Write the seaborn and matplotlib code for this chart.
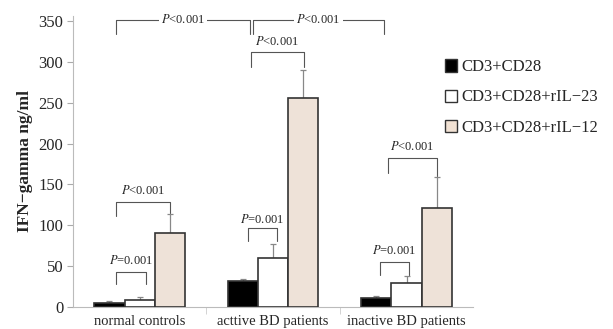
import numpy as np
import pandas as pd
import matplotlib
matplotlib.use("Agg")
import matplotlib.pyplot as plt
import seaborn as sns
from matplotlib.patches import Patch

# ---- data ----
groups = ["normal controls", "acttive BD patients", "inactive BD patients"]
stims = ["CD3+CD28", "CD3+CD28+rIL\u221223", "CD3+CD28+rIL\u221212"]
cd3_cd28 = [5, 31, 10]
cd3_cd28_il23 = [8, 60, 29.5]
cd3_cd28_il12 = [90, 256, 121]
err_cd3_cd28 = [1.5, 2.5, 3]
err_il23 = [4, 17, 7.5]
err_il12 = [24, 34, 38]
yticks = [0, 50, 100, 150, 200, 250, 300, 350]

# significance brackets: x1, x2, top, left arm end, right arm end, label, text y
brackets = [
    (-0.18, 0.83, 352, 335, 335, "<0.001", 352),
    (0.85, 1.83, 352, 335, 335, "<0.001", 352),
    (0.835, 1.23, 312, 294, 294, "<0.001", 325),
    (-0.18, 0.23, 129, 111, 115, "<0.001", 143),
    (-0.18, 0.045, 43, 28, 28, "=0.001", 57),
    (0.81, 1.03, 97, 80, 80, "=0.001", 107),
    (1.80, 2.015, 55, 39, 39, "=0.001", 69),
    (1.86, 2.23, 183, 164, 160, "<0.001", 197),
]

df = pd.DataFrame({
    "group": groups * 3,
    "stim": [stims[0]] * 3 + [stims[1]] * 3 + [stims[2]] * 3,
    "value": cd3_cd28 + cd3_cd28_il23 + cd3_cd28_il12,
})
errs = [err_cd3_cd28, err_il23, err_il12]

sns.set_style("white")
plt.rcParams["font.family"] = ["Liberation Serif", "DejaVu Serif"]
plt.rcParams["mathtext.fontset"] = "stix"

colors = ["#000000", "#ffffff", "#f2e2d4"]

fig = plt.figure(figsize=(6.13, 3.29), dpi=100)
ax = fig.add_axes([0.119, 0.068, 0.653, 0.884])

sns.barplot(data=df, x="group", y="value", hue="stim", palette=colors,
            width=0.68, edgecolor="#333333", linewidth=1.2, errorbar=None,
            legend=False, ax=ax, zorder=3)

# one-sided error bars
for cont, e in zip(ax.containers, errs):
    for bar, ev in zip(cont, e):
        xc = bar.get_x() + bar.get_width() / 2
        h = bar.get_height()
        ax.errorbar(xc, h, yerr=[[0], [ev]], color="#888888", lw=0.9,
                    capsize=2.5, capthick=0.9, zorder=2)

# brackets
for x1, x2, top, yl, yr, lab, ty in brackets:
    ax.plot([x1, x1, x2, x2], [yl, top, top, yr], color="#555555", lw=0.8,
            zorder=4, clip_on=False)
    t = ax.text((x1 + x2) / 2, ty, r"$\it{P}$" + lab, ha="center", va="center",
                fontsize=9, zorder=5, clip_on=False)
    if ty == top:
        t.set_bbox(dict(facecolor="white", edgecolor="none", pad=1.5))

ax.set_ylim(0, 357)
ax.set_xlim(-0.5, 2.5)
ax.set_yticks(yticks)
ax.set_ylabel("IFN\u2212gamma ng/ml", fontsize=12.5, fontweight="bold", labelpad=4)
ax.set_xlabel("")
ax.tick_params(axis="y", labelsize=12, length=4, color="#aaaaaa", left=True, pad=3)
ax.tick_params(axis="x", labelsize=10.5, length=0, pad=6)
ax.set_xticks([0.5, 1.5], minor=True)
ax.tick_params(axis="x", which="minor", length=5, color="#cccccc", bottom=True)
for s in ["top", "right"]:
    ax.spines[s].set_visible(False)
for s in ["left", "bottom"]:
    ax.spines[s].set_color("#bbbbbb")
    ax.spines[s].set_linewidth(0.8)

handles = [Patch(facecolor=c, edgecolor="#333333", linewidth=1.0) for c in colors]
fig.legend(handles, stims, loc="upper left", bbox_to_anchor=(0.715, 0.84),
           frameon=False, fontsize=12, handlelength=0.75, handleheight=0.75,
           handletextpad=0.25, labelspacing=0.85, borderaxespad=0)

fig.savefig("out.png", dpi=100)
